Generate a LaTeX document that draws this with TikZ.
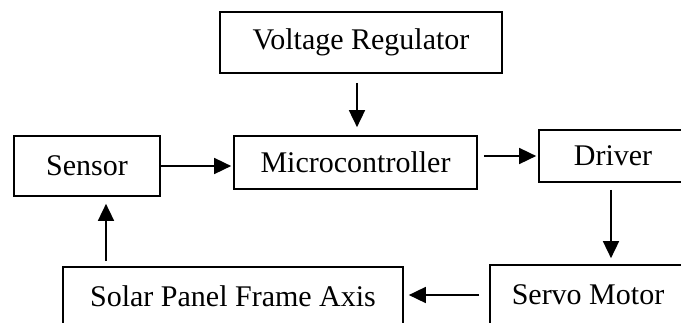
\documentclass[tikz,border=0pt]{standalone}
\usepackage{fontspec}
\setmainfont{Liberation Serif}
\usetikzlibrary{arrows.meta}
\tikzset{
  blk/.style={draw, line width=1.7pt, inner sep=0pt, font=\fontsize{30}{36}\selectfont},
  arr/.style={line width=1.7pt, -{Triangle[length=17pt,width=16pt]}}
}
\begin{document}
\begin{tikzpicture}[x=1pt,y=-1pt]
\useasboundingbox (0,0) rectangle (681,322);
\clip (0,0) rectangle (681,322);
\fill[white] (0,0) rectangle (681,322);
\node[blk, minimum width=282pt, minimum height=61pt] (VR) at (361,42.5) {Voltage Regulator};
\node[blk, minimum width=243pt, minimum height=53pt] (MC) at (355.5,162.5) {Microcontroller};
\node[blk, minimum width=146pt, minimum height=60pt] (SE) at (87,166) {Sensor};
\node[blk, minimum width=148pt, minimum height=52pt] (DR) at (613,156) {Driver};
\node[blk, minimum width=196pt, minimum height=60pt] (SM) at (588,295) {Servo Motor};
\node[blk, minimum width=340pt, minimum height=58pt] (SP) at (233,296) {Solar Panel Frame Axis};
\draw[arr, shorten <=9pt, shorten >=8pt] ([xshift=-4pt]VR.south) -- ([xshift=-4pt]VR.south |- MC.north);
\draw[arr, shorten >=2pt] (SE.east) -- (SE.east -| MC.west);
\draw[arr, shorten <=6pt, shorten >=2pt] (MC.east |- DR.west) -- (DR.west);
\draw[arr, shorten <=7pt, shorten >=6pt] ([xshift=-2pt]DR.south) -- ([xshift=-2pt]DR.south |- SM.north);
\draw[arr, shorten <=10pt, shorten >=5pt] (SM.west) -- (SM.west -| SP.east);
\draw[arr, shorten <=5pt, shorten >=7pt] ([xshift=19pt]SE.south |- SP.north) -- ([xshift=19pt]SE.south);
\end{tikzpicture}
\end{document}
